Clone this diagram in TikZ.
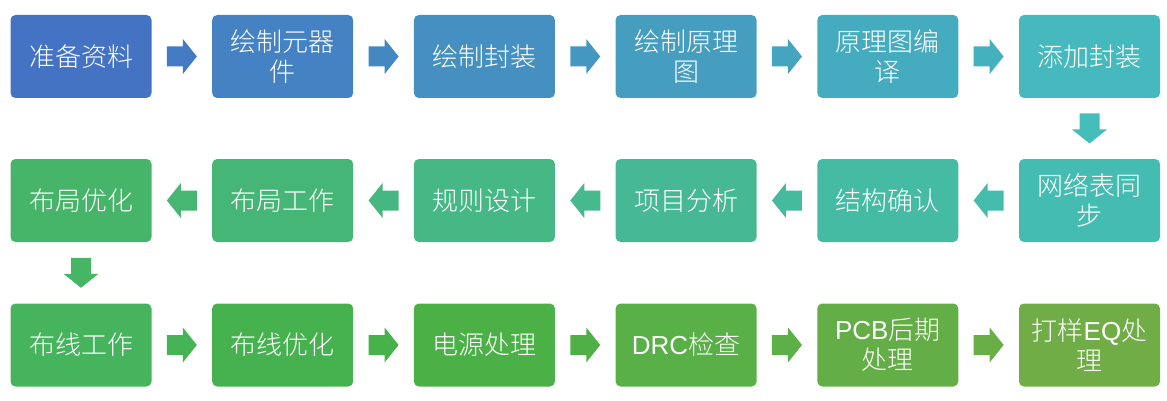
\documentclass[tikz,border=0pt]{standalone}
\usepackage{fontspec}
\setmainfont{Noto Sans CJK SC}[UprightFont=* Light]
\newfontfamily\latf{Liberation Sans}
\usetikzlibrary{calc}
\newcommand\mkcol[2]{%
  \pgfmathsetmacro\myH{218-7.1765*#2}%
  \pgfmathsetmacro\myS{0.653-0.00371*#2}%
  \pgfmathsetmacro\myB{0.769-0.00535*#2}%
  \edef\mytmp{\noexpand\convertcolorspec{Hsb}{\myH,\myS,\myB}{rgb}\noexpand\myrgb}\mytmp
  \edef\mytmp{\noexpand\definecolor{#1}{rgb}{\myrgb}}\mytmp}
\mkcol{c0}{0}\mkcol{c1}{1}\mkcol{c2}{2}\mkcol{c3}{3}\mkcol{c4}{4}\mkcol{c5}{5}
\mkcol{c6}{6}\mkcol{c7}{7}\mkcol{c8}{8}\mkcol{c9}{9}\mkcol{c10}{10}\mkcol{c11}{11}
\mkcol{c12}{12}\mkcol{c13}{13}\mkcol{c14}{14}\mkcol{c15}{15}\mkcol{c16}{16}\mkcol{c17}{17}
\mkcol{a0}{0.4}\mkcol{a1}{1.4}\mkcol{a2}{2.4}\mkcol{a3}{3.4}\mkcol{a4}{4.4}\mkcol{a5}{5.4}
\mkcol{a6}{6.4}\mkcol{a7}{7.4}\mkcol{a8}{8.4}\mkcol{a9}{9.4}\mkcol{a10}{10.4}\mkcol{a11}{11.4}
\mkcol{a12}{12.4}\mkcol{a13}{13.4}\mkcol{a14}{14.4}\mkcol{a15}{15.4}\mkcol{a16}{16.4}
\tikzset{
  stepbox/.style={rounded corners=5pt, fill=#1, text=white, minimum width=141pt,
    minimum height=83pt, inner sep=0pt, align=center,
    font=\fontsize{26}{30}\selectfont},
  blockarrow/.style={fill=#1}
}
\newcommand\flowarrow[3]{%
  \fill[blockarrow=#3, shift={#1}, rotate=#2]
    (-15,-10) -- (1,-10) -- (1,-17.5) -- (15,0) -- (1,17.5) -- (1,10) -- (-15,10) -- cycle;}
\begin{document}
\begin{tikzpicture}[x=1pt,y=-1pt]
\useasboundingbox (0,0) rectangle (1167,401);
% row 1
\node[stepbox=c0] (n1) at (81,56.5) {准备资料};
\node[stepbox=c1] (n2) at (282.7,56.5) {绘制元器\\件};
\node[stepbox=c2] (n3) at (484.4,56.5) {绘制封装};
\node[stepbox=c3] (n4) at (686.1,56.5) {绘制原理\\图};
\node[stepbox=c4] (n5) at (887.8,56.5) {原理图编\\译};
\node[stepbox=c5] (n6) at (1089.5,56.5) {添加封装};
% row 2
\node[stepbox=c6] (n7) at (1089.5,200.5) {网络表同\\步};
\node[stepbox=c7] (n8) at (887.8,200.5) {结构确认};
\node[stepbox=c8] (n9) at (686.1,200.5) {项目分析};
\node[stepbox=c9] (n10) at (484.4,200.5) {规则设计};
\node[stepbox=c10] (n11) at (282.7,200.5) {布局工作};
\node[stepbox=c11] (n12) at (81,200.5) {布局优化};
% row 3
\node[stepbox=c12] (n13) at (81,345) {布线工作};
\node[stepbox=c13] (n14) at (282.7,345) {布线优化};
\node[stepbox=c14] (n15) at (484.4,345) {电源处理};
\node[stepbox=c15] (n16) at (686.1,345) {{\latf DRC}检查};
\node[stepbox=c16] (n17) at (887.8,345) {{\latf PCB}后期\\处理};
\node[stepbox=c17] (n18) at (1089.5,345) {打样{\latf EQ}处\\理};
% arrows
\flowarrow{($(n1.east)!0.5!(n2.west)$)}{0}{a0}
\flowarrow{($(n2.east)!0.5!(n3.west)$)}{0}{a1}
\flowarrow{($(n3.east)!0.5!(n4.west)$)}{0}{a2}
\flowarrow{($(n4.east)!0.5!(n5.west)$)}{0}{a3}
\flowarrow{($(n5.east)!0.5!(n6.west)$)}{0}{a4}
\flowarrow{($(n6.south)!0.5!(n7.north)$)}{-90}{a5}
\flowarrow{($(n7.west)!0.5!(n8.east)$)}{180}{a6}
\flowarrow{($(n8.west)!0.5!(n9.east)$)}{180}{a7}
\flowarrow{($(n9.west)!0.5!(n10.east)$)}{180}{a8}
\flowarrow{($(n10.west)!0.5!(n11.east)$)}{180}{a9}
\flowarrow{($(n11.west)!0.5!(n12.east)$)}{180}{a10}
\flowarrow{($(n12.south)!0.5!(n13.north)$)}{-90}{a11}
\flowarrow{($(n13.east)!0.5!(n14.west)$)}{0}{a12}
\flowarrow{($(n14.east)!0.5!(n15.west)$)}{0}{a13}
\flowarrow{($(n15.east)!0.5!(n16.west)$)}{0}{a14}
\flowarrow{($(n16.east)!0.5!(n17.west)$)}{0}{a15}
\flowarrow{($(n17.east)!0.5!(n18.west)$)}{0}{a16}
\end{tikzpicture}
\end{document}
